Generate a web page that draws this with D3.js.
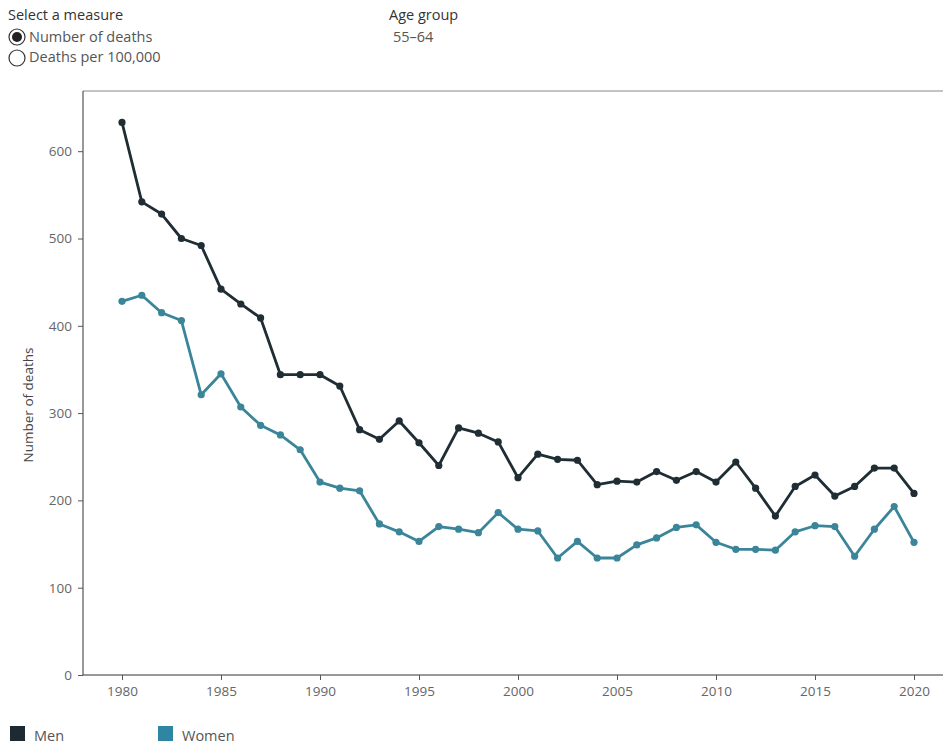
<!DOCTYPE html>
<html>
<head>
<meta charset="utf-8">
<script src="https://cdn.jsdelivr.net/npm/d3@7"></script>
<style>
  html, body { margin: 0; padding: 0; background: #fff; }
  svg { display: block; font-family: "Open Sans", "Noto Sans", sans-serif; }
</style>
</head>
<body>
<svg id="chart" width="943" height="744"></svg>
<script>
const years = d3.range(1980, 2021);
const menValues = [633, 542, 528, 500, 492, 442, 425, 409, 344, 344, 344, 331, 281, 270, 291, 266, 240, 283, 277, 267,
  226, 253, 247, 246, 218, 222, 221, 233, 223, 233, 221, 244, 214, 182, 216, 229, 205, 216, 237, 237, 208];
const womenValues = [428, 435, 415, 406, 321, 345, 307, 286, 275, 258, 221, 214, 211, 173, 164, 153, 170, 167, 163, 186,
  167, 165, 134, 153, 134, 134, 149, 157, 169, 172, 152, 144, 144, 143, 164, 171, 170, 136, 167, 193, 152];
const yTicks = [0, 100, 200, 300, 400, 500, 600];
const xTicks = [1980, 1985, 1990, 1995, 2000, 2005, 2010, 2015, 2020];
const seriesNames = ["Men", "Women"];
const lineColors = ["#1f2e35", "#3a8599"];
const legendColors = ["#1c2b33", "#2f86a2"];

const svg = d3.select("#chart");
const textColor = "#666";
const fs = 13.5;
const fsc = 14.5;

// Controls
svg.append("text").attr("x", 8).attr("y", 20).attr("font-size", fsc).attr("fill", "#333").text("Select a measure");
svg.append("circle").attr("cx", 17).attr("cy", 37).attr("r", 8).attr("fill", "#fff").attr("stroke", "#333").attr("stroke-width", 1.2);
svg.append("circle").attr("cx", 17).attr("cy", 37).attr("r", 5).attr("fill", "#222");
svg.append("text").attr("x", 29).attr("y", 42).attr("font-size", fsc).attr("fill", "#555").text("Number of deaths");
svg.append("circle").attr("cx", 17).attr("cy", 58).attr("r", 8).attr("fill", "#fff").attr("stroke", "#333").attr("stroke-width", 1.2);
svg.append("text").attr("x", 29).attr("y", 62).attr("font-size", fsc).attr("fill", "#555").text("Deaths per 100,000");
svg.append("text").attr("x", 389).attr("y", 20).attr("font-size", fsc).attr("fill", "#333").text("Age group");
svg.append("text").attr("x", 393).attr("y", 42).attr("font-size", fsc).attr("fill", "#555").text("55–64");

// Scales
const x = d3.scaleLinear().domain([1980, 2020]).range([122, 914]);
const y = d3.scaleLinear().domain([0, 600]).range([675, 151.2]);

const plotLeft = 83, plotTop = 91, plotRight = 943, plotBottom = 675;

// frame
svg.append("line").attr("x1", plotLeft).attr("x2", plotRight).attr("y1", plotTop).attr("y2", plotTop)
  .attr("stroke", "#888").attr("stroke-width", 1);

// Y axis
const yAxis = svg.append("g").attr("transform", `translate(${plotLeft},0)`)
  .call(d3.axisLeft(y).tickValues(yTicks).tickSize(5).tickPadding(6).tickFormat(d3.format("d")));
yAxis.select(".domain").attr("d", `M0,${plotTop}V${plotBottom}`).attr("stroke", "#333");
yAxis.selectAll(".tick line").attr("stroke", "#555");
yAxis.selectAll("text").attr("font-size", fs).attr("fill", textColor).attr("font-family", "'Open Sans', sans-serif");

// X axis
const xAxis = svg.append("g").attr("transform", `translate(0,${plotBottom})`)
  .call(d3.axisBottom(x).tickValues(xTicks).tickSize(5).tickPadding(6).tickFormat(d3.format("d")));
xAxis.select(".domain").attr("d", `M${plotLeft},0H${plotRight}`).attr("stroke", "#333");
xAxis.selectAll(".tick line").attr("stroke", "#555");
xAxis.selectAll("text").attr("font-size", fs).attr("fill", textColor).attr("font-family", "'Open Sans', sans-serif");

// Y label
svg.append("text").attr("transform", `translate(33,${(plotTop + plotBottom) / 2 + 22}) rotate(-90)`)
  .attr("text-anchor", "middle").attr("font-size", fs).attr("fill", "#444").text("Number of deaths");

// Lines
const series = [menValues, womenValues];
const line = d3.line().x((d, i) => x(years[i])).y(d => y(d));
series.forEach((vals, si) => {
  svg.append("path").datum(vals).attr("d", line).attr("fill", "none")
    .attr("stroke", lineColors[si]).attr("stroke-width", 2.8).attr("stroke-linejoin", "round");
  svg.append("g").selectAll("circle").data(vals).join("circle")
    .attr("cx", (d, i) => x(years[i])).attr("cy", d => y(d)).attr("r", 3.6).attr("fill", lineColors[si]);
});

// Legend
const legendX = [10, 158];
seriesNames.forEach((name, i) => {
  svg.append("rect").attr("x", legendX[i]).attr("y", 726).attr("width", 15).attr("height", 15).attr("fill", legendColors[i]);
  svg.append("text").attr("x", legendX[i] + 24).attr("y", 741).attr("font-size", fsc).attr("fill", "#555").text(name);
});
</script>
</body>
</html>
